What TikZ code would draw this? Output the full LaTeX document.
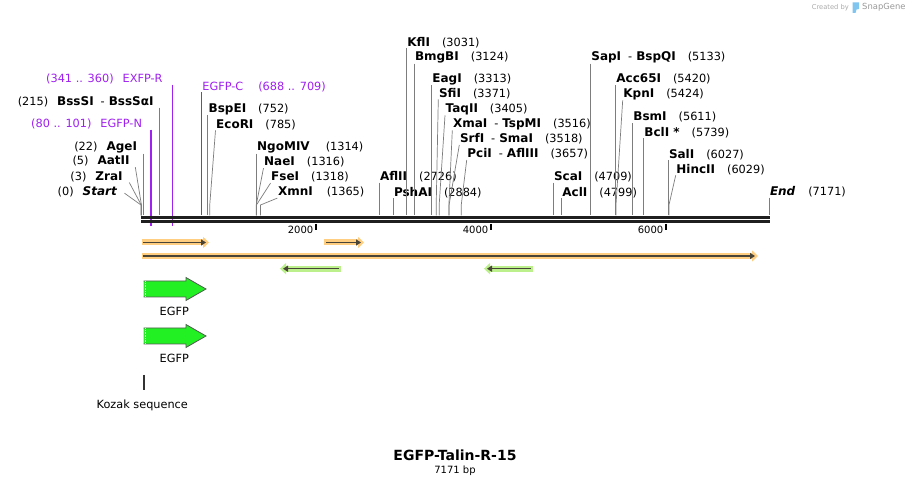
\documentclass[tikz,border=0pt]{standalone}
\usepackage{fontspec}
\setmainfont{DejaVu Sans}
\definecolor{primerPurple}{RGB}{160,32,240}
\definecolor{cutGray}{RGB}{125,125,125}
\definecolor{hlOrange}{RGB}{255,206,128}
\definecolor{hlGreen}{RGB}{188,240,140}
\definecolor{featDark}{RGB}{72,68,56}
\definecolor{egfpGreen}{RGB}{34,240,34}
\definecolor{snapBlue}{RGB}{128,196,240}
\usetikzlibrary{arrows.meta,positioning,calc}
\newcommand{\enz}[1]{{\fontsize{12}{14}\selectfont\bfseries #1}}
\newcommand{\bpx}[1]{141+0.08757*#1}

\begin{document}
\begin{tikzpicture}[x=1pt,y=-1pt,
    lab/.style={inner sep=0.5pt, font=\fontsize{11.3}{13}\selectfont},
    primer/.style={lab, text=primerPurple},
    cut/.style={cutGray, line width=0.7pt},
    pline/.style={primerPurple, line width=1.2pt},
    hlo/.style={hlOrange, line width=6pt, -{Triangle[length=6pt,width=11pt]}},
    hlg/.style={hlGreen, line width=6pt, -{Triangle[length=6pt,width=11pt]}},
    feat/.style={featDark, line width=1.6pt, -{Triangle[length=5pt,width=6pt]}},
    tick/.style={black, line width=1.8pt},
    ticklab/.style={inner sep=0pt, font=\fontsize{10}{12}\selectfont}]
    \useasboundingbox (0,0) rectangle (911,486);
    \fill[white] (0,0) rectangle (911,486);

    % primers -- drawn first so the backbone covers them
    \coordinate (pN) at (151,226);
    \coordinate (pR) at (172.3,226);
    \coordinate (pC) at (201.7,215);
    \node[primer, anchor=east] (egfpn) at (142.7,124) {(80 .. 101)\hspace{9pt}EGFP-N};
    \node[primer, anchor=east] (exfpr) at (163.3,79) {(341 .. 360)\hspace{9pt}EXFP-R};
    \node[primer, anchor=west] (egfpc) at (201.7,86.7) {EGFP-C\hspace{15pt}(688 .. 709)};
    \draw[pline] (egfpn.south east -| pN) -- (pN);
    \draw[pline] (exfpr.south east -| pR) -- (pR);
    \draw[pline] (egfpc.south west -| pC) -- (pC);

    % sites on the top strand
    \coordinate (s0) at ({\bpx{0}},215.5);
    \coordinate (s3) at ({\bpx{3}},215.5);
    \coordinate (s5) at ({\bpx{5}},215.5);
    \coordinate (s22) at ({\bpx{22}},215.5);
    \coordinate (s215) at ({\bpx{215}},215.5);
    \coordinate (s752) at ({\bpx{752}},215.5);
    \coordinate (s785) at ({\bpx{785}},215.5);
    \coordinate (s1314) at ({\bpx{1314}},215.5);
    \coordinate (s1316) at ({\bpx{1316}},215.5);
    \coordinate (s1318) at ({\bpx{1318}},215.5);
    \coordinate (s1365) at ({\bpx{1365}},215.5);
    \coordinate (s2726) at ({\bpx{2726}},215.5);
    \coordinate (s2884) at ({\bpx{2884}},215.5);
    \coordinate (s3031) at ({\bpx{3031}},215.5);
    \coordinate (s3124) at ({\bpx{3124}},215.5);
    \coordinate (s3313) at ({\bpx{3313}},215.5);
    \coordinate (s3371) at ({\bpx{3371}},215.5);
    \coordinate (s3405) at ({\bpx{3405}},215.5);
    \coordinate (s3516) at ({\bpx{3516}},215.5);
    \coordinate (s3518) at ({\bpx{3518}},215.5);
    \coordinate (s3657) at ({\bpx{3657}},215.5);
    \coordinate (s4709) at ({\bpx{4709}},215.5);
    \coordinate (s4799) at ({\bpx{4799}},215.5);
    \coordinate (s5133) at ({\bpx{5133}},215.5);
    \coordinate (s5420) at ({\bpx{5420}},215.5);
    \coordinate (s5424) at ({\bpx{5424}},215.5);
    \coordinate (s5611) at ({\bpx{5611}},215.5);
    \coordinate (s5739) at ({\bpx{5739}},215.5);
    \coordinate (s6027) at ({\bpx{6027}},215.5);
    \coordinate (s6029) at ({\bpx{6029}},215.5);
    \coordinate (s7171) at ({\bpx{7171}},215.5);

    % labels left of the start
    \node[lab, anchor=east] (start) at (117.5,191.7) {(0)\hspace{9pt}\enz{\itshape Start}};
    \node[lab, anchor=east] (zrai) at (123.3,176.7) {(3)\hspace{9pt}\enz{ZraI}};
    \node[lab, anchor=east] (aatii) at (130.3,161.3) {(5)\hspace{9pt}\enz{AatII}};
    \node[lab, anchor=east] (agei) at (137.7,147.3) {(22)\hspace{9pt}\enz{AgeI}};
    \node[lab, anchor=east] (bsssi) at (154.3,101.7) {(215)\hspace{9pt}\enz{BssSI}\hspace{7pt}-\hspace{4pt}\enz{BssSαI}};
    \draw[cut] ([shift={(7pt,-1.5pt)}]start.east) -- ([yshift=10.5pt]s0) -- (s0);
    \draw[cut] ([xshift=6pt]zrai.south east) -- ([yshift=10.5pt]s3) -- (s3);
    \draw[cut] ([xshift=5pt]aatii.south east) -- ([yshift=10.5pt]s5) -- (s5);
    \draw[cut] (agei.south east -| s22) -- (s22);
    \draw[cut] (bsssi.south east -| s215) -- (s215);

    % labels right of their sites
    \node[lab, anchor=west] (bspei) at (208,109) {\enz{BspEI}\hspace{12pt}(752)};
    \node[lab, anchor=west] (ecori) at (215.5,124.5) {\enz{EcoRI}\hspace{12pt}(785)};
    \node[lab, anchor=west] (ngomiv) at (256.5,147.3) {\enz{NgoMIV}\hspace{16pt}(1314)};
    \node[lab, anchor=west] (naei) at (263.5,162.3) {\enz{NaeI}\hspace{12pt}(1316)};
    \node[lab, anchor=west] (fsei) at (270.5,177.3) {\enz{FseI}\hspace{12pt}(1318)};
    \node[lab, anchor=west] (xmni) at (277.3,192.3) {\enz{XmnI}\hspace{14pt}(1365)};
    \node[lab, anchor=west] (aflii) at (379.3,176.7) {\enz{AflII}\hspace{12pt}(2726)};
    \node[lab, anchor=west] (pshai) at (393.3,192.3) {\enz{PshAI}\hspace{12pt}(2884)};
    \node[lab, anchor=west] (kfli) at (406.7,42.3) {\enz{KflI}\hspace{12pt}(3031)};
    \node[lab, anchor=west] (bmgbi) at (414.3,57.3) {\enz{BmgBI}\hspace{12pt}(3124)};
    \node[lab, anchor=west] (eagi) at (431.7,79) {\enz{EagI}\hspace{12pt}(3313)};
    \node[lab, anchor=west] (sfii) at (438.3,93.3) {\enz{SfiI}\hspace{12pt}(3371)};
    \node[lab, anchor=west] (taqii) at (445,109) {\enz{TaqII}\hspace{12pt}(3405)};
    \node[lab, anchor=west] (xmai) at (452.3,124) {\enz{XmaI}\hspace{7pt}-\hspace{4pt}\enz{TspMI}\hspace{12pt}(3516)};
    \node[lab, anchor=west] (srfi) at (459.3,139) {\enz{SrfI}\hspace{7pt}-\hspace{4pt}\enz{SmaI}\hspace{12pt}(3518)};
    \node[lab, anchor=west] (pcii) at (466.7,154) {\enz{PciI}\hspace{7pt}-\hspace{4pt}\enz{AflIII}\hspace{12pt}(3657)};
    \node[lab, anchor=west] (scai) at (553.3,176.7) {\enz{ScaI}\hspace{12pt}(4709)};
    \node[lab, anchor=west] (acli) at (561.7,192.3) {\enz{AclI}\hspace{12pt}(4799)};
    \node[lab, anchor=west] (sapi) at (590.7,57.3) {\enz{SapI}\hspace{7pt}-\hspace{4pt}\enz{BspQI}\hspace{12pt}(5133)};
    \node[lab, anchor=west] (acc65i) at (615.7,79.3) {\enz{Acc65I}\hspace{12pt}(5420)};
    \node[lab, anchor=west] (kpni) at (622.7,94) {\enz{KpnI}\hspace{12pt}(5424)};
    \node[lab, anchor=west] (bsmi) at (632.7,117.3) {\enz{BsmI}\hspace{12pt}(5611)};
    \node[lab, anchor=west] (bcli) at (643.7,132.3) {\enz{BclI *}\hspace{12pt}(5739)};
    \node[lab, anchor=west] (sali) at (668.3,154.3) {\enz{SalI}\hspace{12pt}(6027)};
    \node[lab, anchor=west] (hincii) at (675.7,169.3) {\enz{HincII}\hspace{12pt}(6029)};
    \node[lab, anchor=west] (endlab) at (769.3,191.7) {\enz{\itshape End}\hspace{13pt}(7171)};

    \draw[cut] (bspei.south west -| s752) -- (s752);
    \draw[cut] (ecori.south west) -- ([yshift=10.5pt]s785) -- (s785);
    \draw[cut] (ngomiv.south west -| s1314) -- (s1314);
    \draw[cut] (naei.south west) -- ([yshift=10.5pt]s1316) -- (s1316);
    \draw[cut] (fsei.south west) -- ([yshift=10.5pt]s1318) -- (s1318);
    \draw[cut] (xmni.south west) -- ([yshift=10.5pt]s1365) -- (s1365);
    \draw[cut] (aflii.south west -| s2726) -- (s2726);
    \draw[cut] (pshai.south west -| s2884) -- (s2884);
    \draw[cut] (kfli.south west -| s3031) -- (s3031);
    \draw[cut] (bmgbi.south west -| s3124) -- (s3124);
    \draw[cut] (eagi.south west -| s3313) -- (s3313);
    \draw[cut] (sfii.south west) -- ([yshift=10.5pt]s3371) -- (s3371);
    \draw[cut] (taqii.south west) -- ([yshift=10.5pt]s3405) -- (s3405);
    \draw[cut] (xmai.south west) -- ([yshift=10.5pt]s3516) -- (s3516);
    \draw[cut] (srfi.south west) -- ([yshift=10.5pt]s3518) -- (s3518);
    \draw[cut] (pcii.south west) -- ([yshift=10.5pt]s3657) -- (s3657);
    \draw[cut] (scai.south west -| s4709) -- (s4709);
    \draw[cut] (acli.south west -| s4799) -- (s4799);
    \draw[cut] (sapi.south west -| s5133) -- (s5133);
    \draw[cut] (acc65i.south west -| s5420) -- (s5420);
    \draw[cut] (kpni.south west) -- ([yshift=10.5pt]s5424) -- (s5424);
    \draw[cut] (bsmi.south west -| s5611) -- (s5611);
    \draw[cut] (bcli.south west -| s5739) -- (s5739);
    \draw[cut] (sali.south west -| s6027) -- (s6027);
    \draw[cut] (hincii.south west) -- ([yshift=10.5pt]s6029) -- (s6029);
    \draw[cut] (endlab.south west -| s7171) -- (s7171);

    % backbone, two strands
    \draw[black!88, line width=3pt] (141,217.3) -- (770,217.3);
    \draw[black!88, line width=2.8pt] (141,221.5) -- (770,221.5);

    % ruler
    \draw[tick] (316,224) -- (316,230);
    \draw[tick] (491,224) -- (491,230);
    \draw[tick] (666,224) -- (666,230);
    \node[ticklab, anchor=east] (t2000) at (313.5,229.5) {2000};
    \node[ticklab, anchor=east] (t4000) at (488.5,229.5) {4000};
    \node[ticklab, anchor=east] (t6000) at (663.5,229.5) {6000};

    % features -- highlight band under a dark arrow
    \draw[hlo] (141.5,242.5) -- (209,242.5);
    \draw[feat] (143,242.5) -- (206,242.5);
    \draw[hlo] (324.3,242.5) -- (364,242.5);
    \draw[feat] (326,242.5) -- (361,242.5);
    \draw[hlo] (141.5,256) -- (758,256);
    \draw[feat] (143,256) -- (755,256);
    \draw[hlg] (341,268.7) -- (280,268.7);
    \draw[feat] (339,268.7) -- (283,268.7);
    \draw[hlg] (533,268.7) -- (484,268.7);
    \draw[feat] (531,268.7) -- (487,268.7);

    % EGFP arrows
    \fill[egfpGreen] (143.5,281) -- (186,281) -- (186,277.5) -- (206,289) -- (186,300.5) -- (186,297) -- (143.5,297) -- cycle;
    \draw[black!65, line width=0.8pt] (143.5,281) -- (186,281) -- (186,277.5) -- (206,289) -- (186,300.5) -- (186,297) -- (143.5,297);
    \draw[white, densely dotted, line width=0.6pt] (145.5,281.5) -- (145.5,296.5);
    \node[lab] (egfp1) at (174.3,311.5) {EGFP};
    \fill[egfpGreen] (143.5,328) -- (186,328) -- (186,324.5) -- (206,336) -- (186,347.5) -- (186,344) -- (143.5,344) -- cycle;
    \draw[black!65, line width=0.8pt] (143.5,328) -- (186,328) -- (186,324.5) -- (206,336) -- (186,347.5) -- (186,344) -- (143.5,344);
    \draw[white, densely dotted, line width=0.6pt] (145.5,328.5) -- (145.5,343.5);
    \node[lab] (egfp2) at (174.3,358.5) {EGFP};

    % Kozak
    \draw[black!80, line width=1.5pt] (144,375) -- (144,390.5);
    \node[lab] (kozak) at (142.3,405) {Kozak sequence};

    % title
    \node[inner sep=0pt, font=\fontsize{14}{16}\selectfont\bfseries] (title) at (455,455) {EGFP-Talin-R-15};
    \node[inner sep=0pt, font=\fontsize{10}{12}\selectfont, below=5pt of title] (bp) {7171 bp};

    % watermark
    \node[inner sep=0pt, anchor=east, text=black!33, font=\fontsize{6.7}{8}\selectfont] (created) at (849,7.5) {Created by};
    \fill[snapBlue] (852.5,2.5) -- (859,2.5) -- (859,9) -- (856.5,9.5) -- (855.5,13) -- (852.5,13) -- cycle;
    \node[inner sep=0pt, anchor=west, text=black!40, font=\fontsize{8.4}{10}\selectfont] (snapgene) at (862,7.5) {SnapGene};
\end{tikzpicture}
\end{document}
